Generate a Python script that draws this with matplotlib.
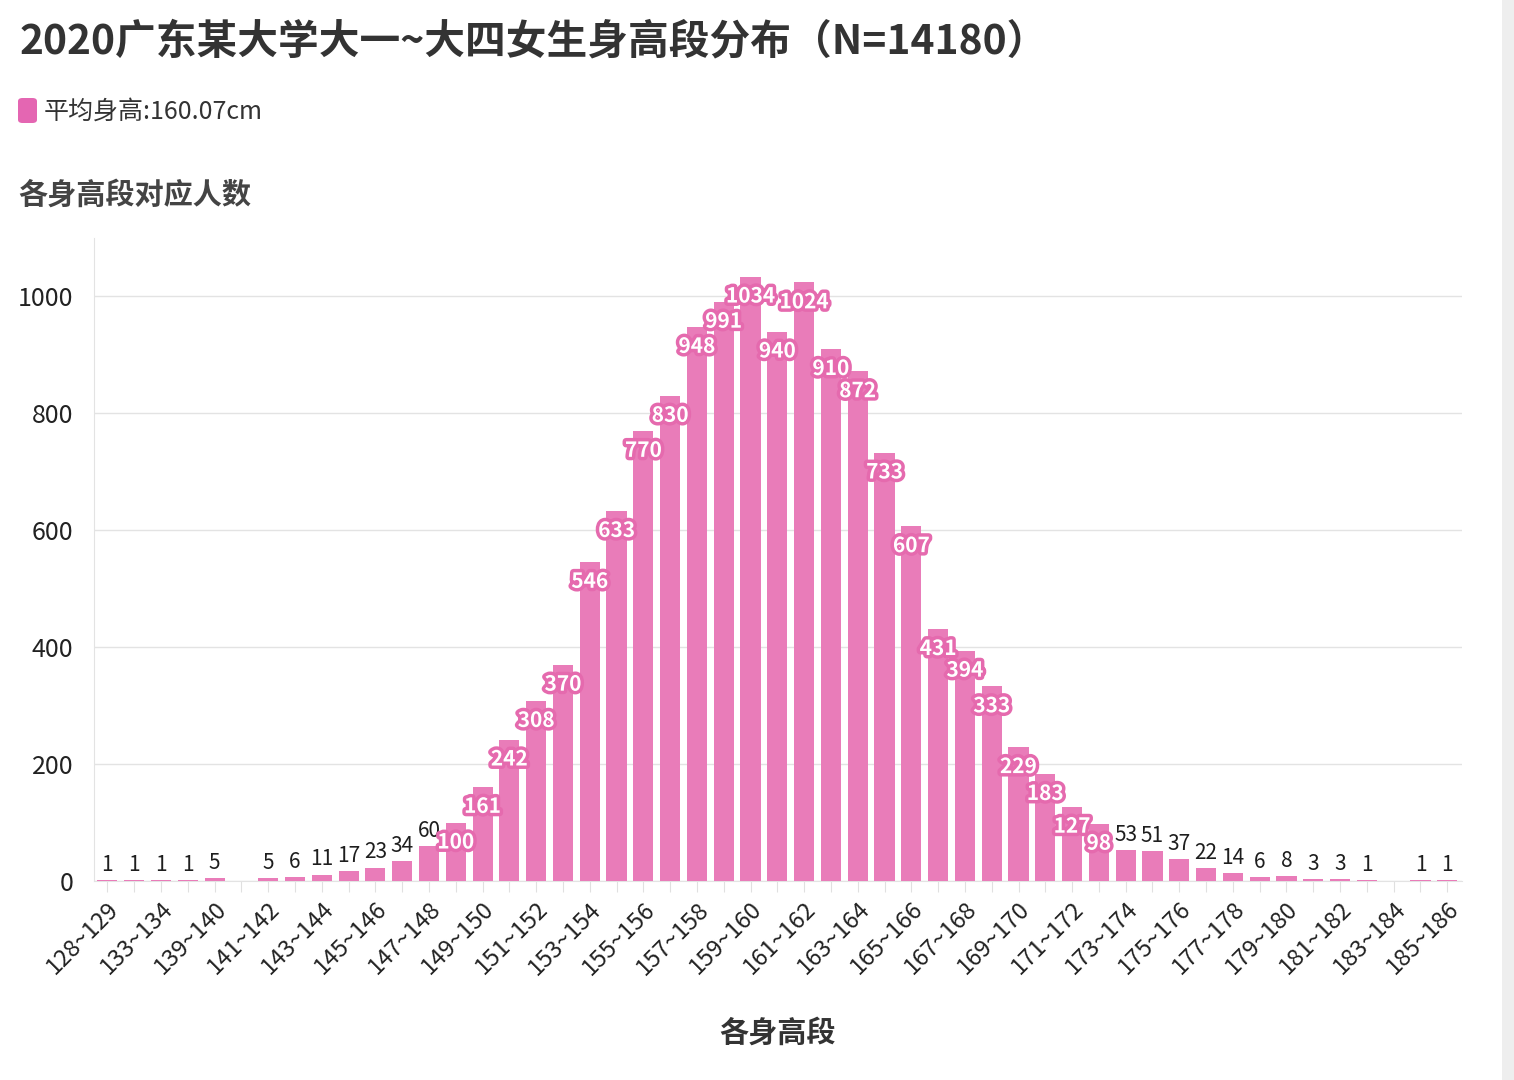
import numpy as np
import matplotlib
matplotlib.use("Agg")
import matplotlib.pyplot as plt
import matplotlib.patheffects as pe
from matplotlib.patches import FancyBboxPatch, Rectangle

plt.rcParams['font.family'] = ['Noto Sans CJK SC', 'DejaVu Sans']

# height ranges (only every other one is labelled on the axis)
categories = ["128~129", "131~132", "133~134", "136~137", "139~140", "140~141"] + \
    ["%d~%d" % (h, h + 1) for h in range(141, 186)]
counts = [1, 1, 1, 1, 5, None, 5, 6, 11, 17, 23, 34, 60, 100, 161, 242, 308, 370,
          546, 633, 770, 830, 948, 991, 1034, 940, 1024, 910, 872, 733, 607, 431,
          394, 333, 229, 183, 127, 98, 53, 51, 37, 22, 14, 6, 8, 3, 3, 1, None, 1, 1]
y_ticks = [0, 200, 400, 600, 800, 1000]

title = "2020广东某大学大一~大四女生身高段分布（N=14180）"
legend_text = "平均身高:160.07cm"
subtitle = "各身高段对应人数"
xlabel = "各身高段"

bar_color = "#E97CB9"
text_dark = "#333333"

vals = np.array([np.nan if c is None else c for c in counts], dtype=float)
x = np.arange(len(categories))

fig = plt.figure(figsize=(15.14, 10.8), dpi=100)
ax = fig.add_axes([94 / 1514, 1 - 881 / 1080, (1462 - 94) / 1514, (881 - 238) / 1080])

ax.bar(x, np.nan_to_num(vals), width=0.75, color=bar_color, zorder=3)

ax.set_xlim(-0.5, len(categories) - 0.45)
ax.set_ylim(0, 1100)
ax.set_yticks(y_ticks)
ax.set_yticklabels([str(t) for t in y_ticks], fontsize=18, color="#222222")
ax.yaxis.grid(True, color="#E3E3E3", linewidth=1, zorder=0)
ax.tick_params(axis="y", length=0, pad=15)

ax.set_xticks(x)
ax.set_xticklabels([c if i % 2 == 0 else "" for i, c in enumerate(categories)],
                   rotation=45, ha="right", rotation_mode="anchor",
                   fontsize=17, color="#222222")
ax.tick_params(axis="x", length=8, color="#E0E0E0", pad=4)

for s in ["top", "right"]:
    ax.spines[s].set_visible(False)
ax.spines["left"].set_color("#E3E3E3")
ax.spines["bottom"].set_color("#E3E3E3")

for xi, v in zip(x, vals):
    if np.isnan(v):
        continue
    if v >= 90:
        ax.annotate("%d" % v, (xi, v), xytext=(0, -14), textcoords="offset points",
                    ha="center", va="center", fontsize=15, fontweight="bold",
                    color="white", zorder=5,
                    path_effects=[pe.withStroke(linewidth=5, foreground="#E56AAE")])
    else:
        ax.annotate("%d" % v, (xi, v), xytext=(0, 3), textcoords="offset points",
                    ha="center", va="bottom", fontsize=15, color="#1E1E1E", zorder=5)

ax.set_xlabel(xlabel, fontsize=21, fontweight="bold", color=text_dark, labelpad=28)

fig.text(20 / 1514, 1 - 42 / 1080, title, fontsize=29.3, fontweight="bold",
         color=text_dark, va="center", ha="left")
fig.patches.append(FancyBboxPatch((18 / 1514, 1 - 123 / 1080), 19 / 1514, 25 / 1080,
                                  boxstyle="round,pad=0.0,rounding_size=0.003",
                                  transform=fig.transFigure, facecolor="#E466B2",
                                  edgecolor="none"))
fig.text(44 / 1514, 1 - 112 / 1080, legend_text, fontsize=18, color=text_dark,
         va="center", ha="left")
fig.text(18 / 1514, 1 - 195 / 1080, subtitle, fontsize=21, fontweight="bold",
         color="#444444", va="center", ha="left")

# gray strip at the right edge of the screenshot
fig.patches.append(Rectangle((1502 / 1514, 0), 12 / 1514, 1, transform=fig.transFigure,
                             facecolor="#EEEEEE", edgecolor="none"))

fig.savefig("out.png", dpi=100, facecolor="white")
